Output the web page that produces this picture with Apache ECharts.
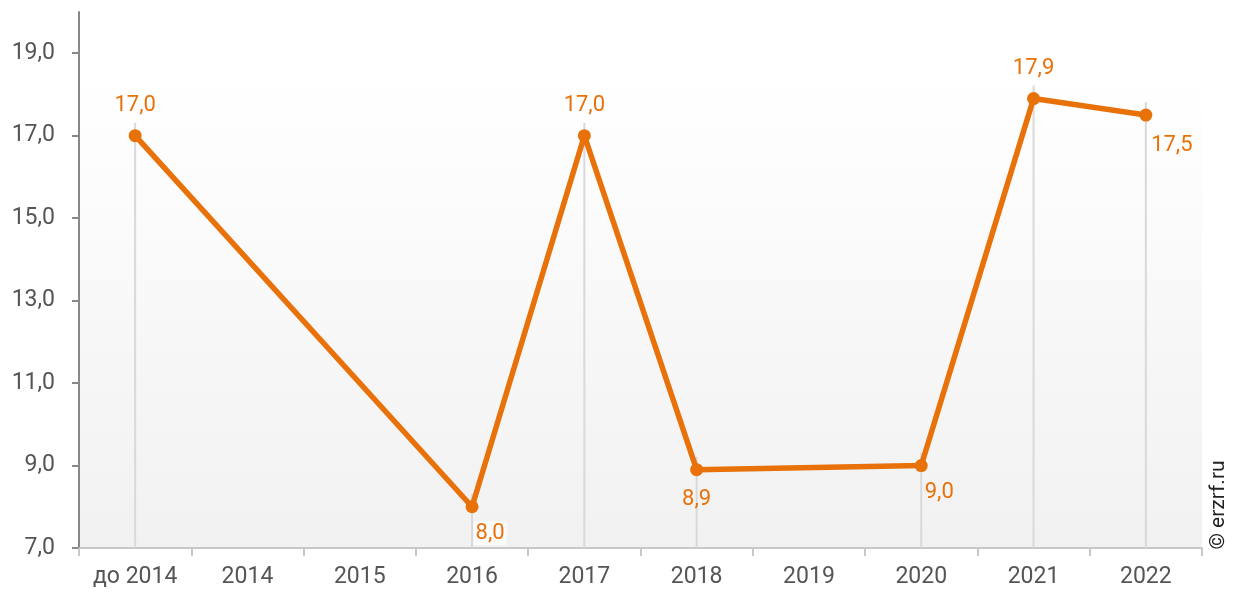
<!DOCTYPE html>
<html>
<head>
<meta charset="utf-8">
<script src="https://cdn.jsdelivr.net/npm/echarts@6/dist/echarts.min.js"></script>
<style>html,body{margin:0;padding:0;background:#fff}#c{width:1242px;height:593px}</style>
</head>
<body>
<div id="c"></div>
<script>
var categories = ['до 2014', '2014', '2015', '2016', '2017', '2018', '2019', '2020', '2021', '2022'];
var values = [17.0, null, null, 8.0, 17.0, 8.9, null, 9.0, 17.9, 17.5];
var labelPlacement = ['top', null, null, 'lowerRight', 'top', 'bottom', null, 'lowerRight', 'top', 'lowerRightFar'];

var orange = '#e8710a';
function fmt(v) { return v.toFixed(1).replace('.', ','); }

var labelCfg = {
  top: { position: 'top', distance: 12, offset: [0, 0] },
  bottom: { position: 'bottom', distance: 11, offset: [0, 0] },
  lowerRight: { position: 'bottom', distance: 8, offset: [18, 0] },
  lowerRightFar: { position: 'bottom', distance: 12, offset: [26, 0] }
};

var lineData = values.map(function (v, i) {
  if (v === null) return null;
  var c = labelCfg[labelPlacement[i]];
  return {
    value: v,
    label: {
      position: c.position, distance: c.distance, offset: c.offset,
      backgroundColor: i === 3 ? 'rgba(255,255,255,0.7)' : 'transparent',
      padding: [1, 2]
    }
  };
});

var dropData = values.map(function (v, i) { return v === null ? [i, '-'] : [i, v]; });

var chart = echarts.init(document.getElementById('c'), null, { renderer: 'canvas' });
chart.setOption({
  animation: false,
  backgroundColor: '#ffffff',
  grid: {
    left: 79, right: 40, top: 12, bottom: 45,
    show: true, borderWidth: 0,
    backgroundColor: new echarts.graphic.LinearGradient(0, 0, 0, 1, [
      { offset: 0, color: '#ffffff' },
      { offset: 0.12, color: '#ffffff' },
      { offset: 1, color: '#f1f1f1' }
    ])
  },
  xAxis: {
    type: 'category',
    data: categories,
    boundaryGap: true,
    axisLine: { lineStyle: { color: '#c8c8c8', width: 2 } },
    axisTick: { show: true, length: 8, lineStyle: { color: '#c8c8c8', width: 2 } },
    axisLabel: { color: '#555', fontSize: 23, fontFamily: 'Roboto', margin: 18 },
    splitLine: { show: false }
  },
  yAxis: {
    type: 'value',
    min: 7, max: 20, interval: 2,
    axisLine: { show: true, lineStyle: { color: '#888', width: 2 } },
    axisTick: { show: true, length: 7, lineStyle: { color: '#888', width: 2 } },
    axisLabel: { color: '#555', fontSize: 23, fontFamily: 'Roboto', margin: 24, showMaxLabel: false,
      formatter: function (v) { return fmt(v); } },
    splitLine: { show: false }
  },
  graphic: [{
    type: 'text',
    rotation: Math.PI / 2,
    x: 1219, y: 505,
    style: { text: '© erzrf.ru', fill: '#222', font: '21px Roboto', textAlign: 'center', textVerticalAlign: 'middle' }
  }],
  series: [
    {
      type: 'custom',
      z: 1,
      silent: true,
      data: dropData,
      renderItem: function (params, api) {
        var v = api.value(1);
        if (isNaN(v)) return null;
        var p = api.coord([api.value(0), v]);
        var b = api.coord([api.value(0), 7]);
        return {
          type: 'line',
          shape: { x1: p[0], y1: p[1] - 13, x2: p[0], y2: b[1] },
          style: { stroke: '#d9d9d9', lineWidth: 2 }
        };
      }
    },
    {
      type: 'line',
      z: 3,
      data: lineData,
      connectNulls: true,
      symbol: 'circle',
      symbolSize: 13,
      lineStyle: { color: orange, width: 5.5 },
      itemStyle: { color: orange },
      label: {
        show: true, color: orange, fontSize: 22, fontFamily: 'Roboto',
        formatter: function (p) { return fmt(p.value); }
      }
    }
  ]
});
</script>
</body>
</html>
